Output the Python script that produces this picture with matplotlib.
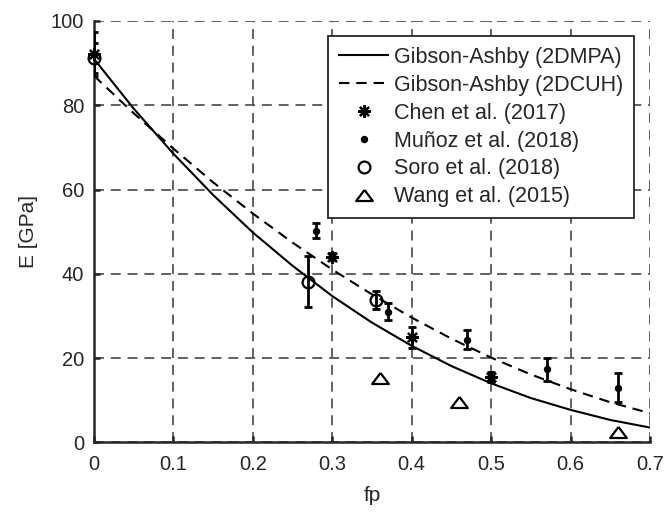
import matplotlib
matplotlib.use("Agg")
import matplotlib.pyplot as plt
import numpy as np

# Gibson-Ashby model curves, values every 0.05 of fp
fp_curve = [0.00, 0.05, 0.10, 0.15, 0.20, 0.25, 0.30, 0.35,
            0.40, 0.45, 0.50, 0.55, 0.60, 0.65, 0.70]
E_2dmpa = [91.0, 79.2, 68.5, 58.7, 49.8, 41.9, 34.7, 28.4,
           22.9, 18.1, 14.0, 10.5, 7.7, 5.3, 3.5]
E_2dcuh = [87.0, 78.1, 69.7, 61.7, 54.3, 47.4, 41.0, 35.1,
           29.6, 24.6, 20.1, 16.1, 12.6, 9.5, 6.9]

# experimental data
chen_fp = [0.0, 0.30, 0.40, 0.50]
chen_E = [92.2, 44.1, 24.9, 15.4]
chen_err = [5.3, 0.8, 2.5, 1.2]

munoz_fp = [0.28, 0.37, 0.47, 0.57, 0.66]
munoz_E = [50.2, 31.0, 24.3, 17.3, 13.0]
munoz_err = [1.8, 2.0, 2.25, 2.7, 3.55]

soro_fp = [0.0, 0.27, 0.355]
soro_E = [91.2, 38.1, 33.8]
soro_err = [3.6, 6.1, 2.1]

wang_fp = [0.36, 0.46, 0.66]
wang_E = [15.3, 9.6, 2.4]

plt.rcParams['font.family'] = ['Liberation Sans', 'DejaVu Sans']

fig = plt.figure(figsize=(6.67, 5.16), dpi=100)
ax = fig.add_axes([94/667, 1-442.3/516, 556/667, 421.3/516])

txt = '#262626'
asterisk = (8, 2, 0)
# MATLAB style triangle: wider than tall
tri = [(0, 0.66), (-1, -0.66), (1, -0.66), (0, 0.66)]

ax.plot(fp_curve, E_2dmpa, color='k', lw=1.5, label='Gibson-Ashby (2DMPA)', zorder=3)
ax.plot(fp_curve, E_2dcuh, color='k', lw=1.5, ls=(0, (5, 3.3)),
        label='Gibson-Ashby (2DCUH)', zorder=3)

def bars(x, y, e):
    ax.errorbar(x, y, yerr=e, fmt='none', ecolor='k', elinewidth=2,
                capsize=3, capthick=2, zorder=4)

bars(chen_fp, chen_E, chen_err)
bars(munoz_fp, munoz_E, munoz_err)
bars(soro_fp, soro_E, soro_err)

ax.plot(chen_fp, chen_E, ls='none', marker=asterisk, ms=9, mew=1.6, color='k',
        label='Chen et al. (2017)', clip_on=False, zorder=5)
ax.plot(munoz_fp, munoz_E, ls='none', marker='o', ms=4.3, color='k',
        label='Muñoz et al. (2018)', clip_on=False, zorder=5)
ax.plot(soro_fp, soro_E, ls='none', marker='o', ms=8.5, mew=1.6, mfc='none', mec='k',
        label='Soro et al. (2018)', clip_on=False, zorder=5)
ax.plot(wang_fp, wang_E, ls='none', marker=tri, ms=12, mew=1.6, mfc='none', mec='k',
        label='Wang et al. (2015)', clip_on=False, zorder=5)

ax.set_xlim(0, 0.7)
ax.set_ylim(0, 100)
ax.set_xticks(np.arange(0, 0.71, 0.1))
ax.set_xticklabels(['0', '0.1', '0.2', '0.3', '0.4', '0.5', '0.6', '0.7'])
ax.set_yticks([0, 20, 40, 60, 80, 100])

ax.grid(True, color='#555555', lw=1.3, ls=(0, (5.5, 3.8)))
ax.set_axisbelow(True)

for s in ['top', 'right']:
    ax.spines[s].set_visible(False)
for s in ['left', 'bottom']:
    ax.spines[s].set_linewidth(1.8)
    ax.spines[s].set_color(txt)

ax.tick_params(direction='in', length=4.5, width=1.8, color=txt,
               labelsize=14.5, labelcolor=txt)
ax.tick_params(axis='x', pad=9)
ax.tick_params(axis='y', pad=7)

ax.set_xlabel('fp', fontsize=15, color=txt, labelpad=9)
ax.set_ylabel('E [GPa]', fontsize=15, color=txt, labelpad=9)

leg = ax.legend(loc='upper right', bbox_to_anchor=(0.971, 0.964), fontsize=15.5,
                frameon=True, fancybox=False, edgecolor=txt, framealpha=1,
                handlelength=2.3, handletextpad=0.25, labelspacing=0.32,
                borderpad=0.5, borderaxespad=0)
leg.get_frame().set_linewidth(1.3)
for t in leg.get_texts():
    t.set_color(txt)

fig.savefig('out.png', dpi=100)
